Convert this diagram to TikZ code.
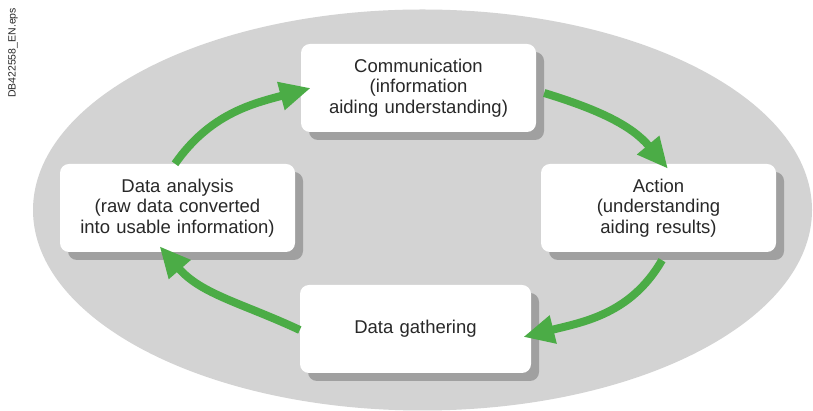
\documentclass[tikz,border=0pt]{standalone}
\usepackage{fontspec}
\setmainfont{Liberation Sans}
\usetikzlibrary{arrows.meta,shadows}
\definecolor{ovalgray}{RGB}{211,211,211}
\definecolor{shadegray}{RGB}{160,160,160}
\definecolor{loopgreen}{RGB}{75,172,70}
\definecolor{textdark}{RGB}{40,40,40}

\begin{document}
\begin{tikzpicture}[x=1pt,y=1pt,
    stage/.style={fill=white, rounded corners=9pt, minimum width=235pt, minimum height=88pt,
      text width=228pt, align=center, inner sep=0pt, text=textdark,
      font=\fontsize{18.5}{20.7}\selectfont,
      drop shadow={shadow xshift=8pt, shadow yshift=-8pt, fill=shadegray, opacity=1}},
    loopline/.style={loopgreen, line width=8pt, -{Triangle[length=31pt,width=27pt]}}]
  \useasboundingbox (0,0) rectangle (813,411);
  % background oval
  \fill[ovalgray] (422.5,201) ellipse [x radius=389.5, y radius=200.5];
  \node[rotate=90, text=textdark, font=\fontsize{10.5}{12}\selectfont] (fileid) at (13,358) {DB422558\_EN.eps};

  % the four stages
  \node[stage] (com) at (418.5,323) {Communication\\(information\\aiding understanding)};
  \node[stage] (act) at (658.5,203) {Action\\(understanding\\aiding results)};
  \node[stage, minimum width=231pt] (gat) at (415.5,82) {Data gathering};
  \node[stage] (ana) at (177.5,203) {Data analysis\\(raw data converted\\into usable information)};

  % cycle arrows
  \draw[loopline] ([xshift=-2.5pt]ana.north) to[out=55,in=195] ([xshift=10pt]com.west);
  \draw[loopline] ([xshift=8pt,yshift=-5pt]com.east) to[out=-17,in=130] ([xshift=9.5pt,yshift=-5pt]act.north);
  \draw[loopline] ([xshift=3.5pt,yshift=-8pt]act.south) to[out=240,in=14] ([xshift=-8pt,yshift=-8pt]gat.east);
  \draw[loopline] ([yshift=-1pt]gat.west) to[out=155,in=-49] ([xshift=-18pt,yshift=6pt]ana.south);
\end{tikzpicture}
\end{document}
